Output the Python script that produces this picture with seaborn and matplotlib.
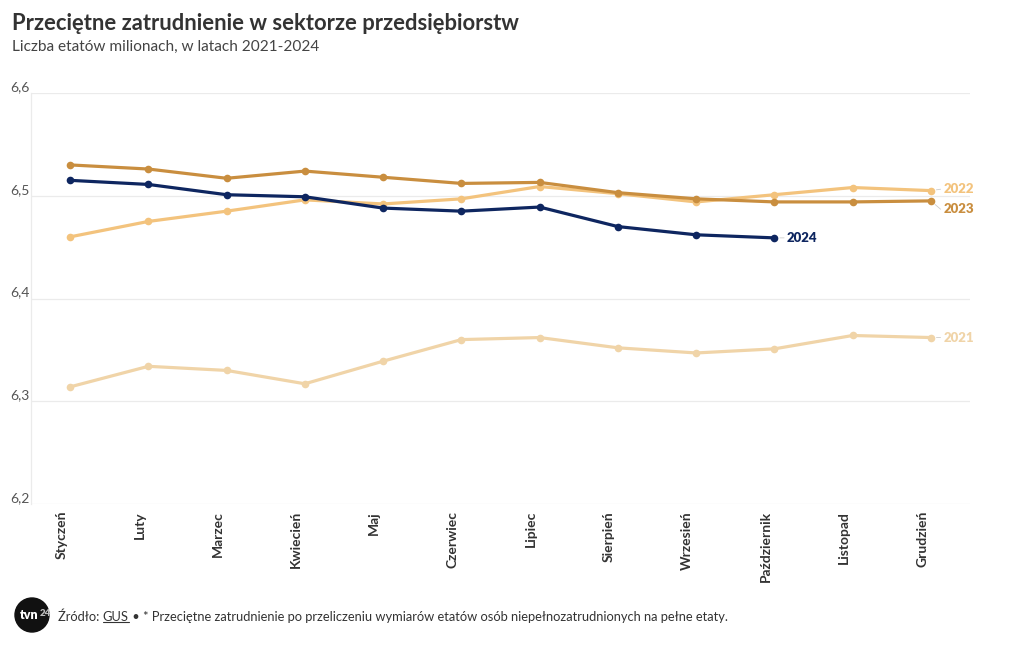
import numpy as np
import pandas as pd
import matplotlib
matplotlib.use("Agg")
import matplotlib.pyplot as plt
import seaborn as sns
from matplotlib.patches import Circle

months = ["Styczeń", "Luty", "Marzec", "Kwiecień", "Maj", "Czerwiec", "Lipiec",
          "Sierpień", "Wrzesień", "Październik", "Listopad", "Grudzień"]
v2021 = [6.314, 6.334, 6.330, 6.317, 6.339, 6.360, 6.362, 6.352, 6.347, 6.351, 6.364, 6.362]
v2022 = [6.460, 6.475, 6.485, 6.496, 6.492, 6.497, 6.509, 6.502, 6.494, 6.501, 6.508, 6.505]
v2023 = [6.530, 6.526, 6.517, 6.524, 6.518, 6.512, 6.513, 6.503, 6.497, 6.494, 6.494, 6.495]
v2024 = [6.515, 6.511, 6.501, 6.499, 6.488, 6.485, 6.489, 6.470, 6.462, 6.459]
years = ["2021", "2022", "2023", "2024"]
yticks = [6.2, 6.3, 6.4, 6.5, 6.6]
ytick_labels = ["6,2", "6,3", "6,4", "6,5", "6,6"]

colors = {"2021": "#f0d4a8", "2022": "#f3c37d", "2023": "#c98e3f", "2024": "#0e2660"}

rows = []
for yr, vals in zip(years, [v2021, v2022, v2023, v2024]):
    for i, v in enumerate(vals):
        rows.append({"month": i, "value": v, "year": yr})
df = pd.DataFrame(rows)

sns.set_theme(style="white")
plt.rcParams["font.family"] = ["Lato", "DejaVu Sans"]

fig = plt.figure(figsize=(10.2, 6.5), dpi=100)
ax = fig.add_axes([31/1020, 1-504/650, (970-31)/1020, (504-93)/650])

sns.lineplot(data=df, x="month", y="value", hue="year", palette=colors,
             hue_order=years, linewidth=2.3, marker="o", markersize=5.5,
             markeredgewidth=0, legend=False, ax=ax, zorder=3)

ax.set_xlim(-0.5, 11.5)
ax.set_ylim(6.2, 6.6)
ax.set_yticks(yticks)
ax.set_yticklabels(ytick_labels)
ax.grid(axis="y", color="#ebebeb", linewidth=0.9)
ax.grid(axis="x", visible=False)
for s in ["top", "right", "bottom"]:
    ax.spines[s].set_visible(False)
ax.spines["left"].set_color("#ebebeb")
ax.spines["left"].set_linewidth(0.9)
ax.tick_params(axis="y", length=0, pad=15, labelsize=10, labelcolor="#555555")
for lab in ax.get_yticklabels():
    lab.set_horizontalalignment("left")
    lab.set_verticalalignment("bottom")
    lab.set_y(0)
ax.set_xlabel("")
ax.set_ylabel("")

# x ticks: long light lines below the axis with labels left of them
ax.set_xticks(range(len(months)))
ax.set_xticklabels([])
ax.tick_params(axis="x", length=54, width=0.9, color="#ebebeb", direction="out")
for i, m in enumerate(months):
    ax.annotate(m, xy=(i, 0), xycoords=("data", "axes fraction"),
                xytext=(-2, -5), textcoords="offset points",
                rotation=90, ha="right", va="top", fontsize=10,
                fontweight="bold", color="#333333")

# end labels
ends = {"2024": (9, v2024[-1], 0), "2022": (11, v2022[-1], 1), "2023": (11, v2023[-1], -6), "2021": (11, v2021[-1], 0)}
for yr, (xi, yv, dy) in ends.items():
    ax.annotate(yr, xy=(xi, yv), xytext=(9, dy), textcoords="offset points",
                ha="left", va="center", fontsize=9.5, fontweight="heavy",
                color=colors[yr], annotation_clip=False)
    ax.annotate("", xy=(xi, yv), xytext=(7, dy), textcoords="offset points",
                arrowprops=dict(arrowstyle="-", color="#cccccc", lw=0.6,
                                shrinkA=0, shrinkB=4), annotation_clip=False)

# title / subtitle
fig.text(12/1020, 1-24/650, "Przeciętne zatrudnienie w sektorze przedsiębiorstw",
         fontsize=15.8, fontweight="bold", color="#333333", va="center", ha="left")
fig.text(12/1020, 1-47/650, "Liczba etatów milionach, w latach 2021-2024",
         fontsize=11.1, color="#444444", va="center", ha="left")

# footer logo
circ = Circle((32, 650-615), 17, transform=None, color="#111111", zorder=5)
fig.patches.append(circ)
fig.text(29/1020, 1-615/650, "tvn", fontsize=9, fontweight="heavy", color="white",
         ha="center", va="center", zorder=6)
fig.text(45/1020, 1-614/650, "24", fontsize=7, fontweight="heavy", color="#bbbbbb",
         ha="center", va="center", zorder=6)

fig.canvas.draw()
r = fig.canvas.get_renderer()
x0 = 58
t1 = fig.text(x0/1020, 1-617/650, "Źródło: ", fontsize=9.3, color="#333333", va="center", ha="left")
bb = t1.get_window_extent(r)
t2 = fig.text(bb.x1/1020, 1-617/650, "GUS", fontsize=9.3, color="#333333", va="center", ha="left")
bb2 = t2.get_window_extent(r)
fig.add_artist(plt.Line2D([bb2.x0/1020, bb2.x1/1020], [(bb2.y0+1)/650, (bb2.y0+1)/650],
                          color="#333333", lw=0.8, transform=fig.transFigure))
fig.text(bb2.x1/1020, 1-617/650,
         " • * Przeciętne zatrudnienie po przeliczeniu wymiarów etatów osób niepełnozatrudnionych na pełne etaty.",
         fontsize=9.3, color="#333333", va="center", ha="left")

fig.savefig("out.png", dpi=100, facecolor="white")
